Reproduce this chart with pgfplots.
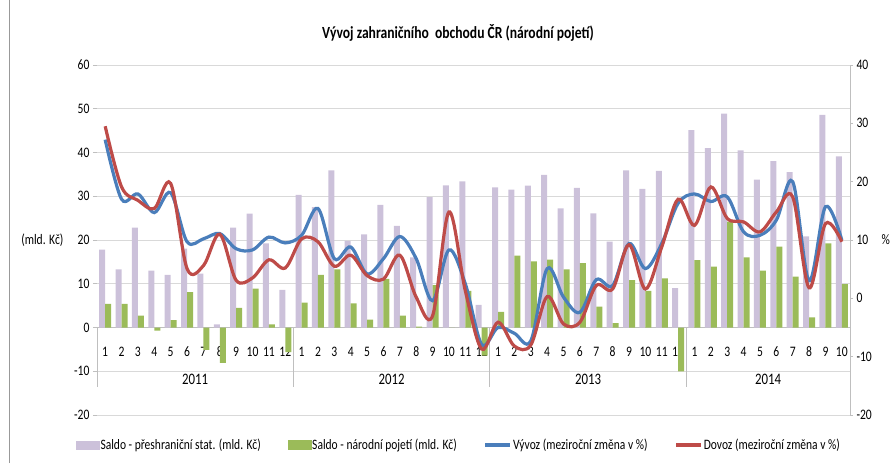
\documentclass[border=0pt]{standalone}
\usepackage{pgfplots}
\usepackage{pgfplotstable}
\pgfplotsset{compat=1.18}
\usepackage{fontspec}
\setmainfont{Carlito}[FakeStretch=0.8]
\definecolor{cPurple}{RGB}{204,193,218}
\definecolor{cGreen}{RGB}{155,187,89}
\definecolor{cBlue}{RGB}{74,126,187}
\definecolor{cRed}{RGB}{190,75,72}
\definecolor{cGrid}{RGB}{217,217,217}
\definecolor{cAxis}{RGB}{191,191,191}
\definecolor{cTxt}{RGB}{40,40,40}

\pgfplotstableread{
x p g v d
1 17.8 5.4 27.2 29.5
2 13.3 5.4 17.0 19.1
3 22.8 2.7 17.9 16.8
4 13.0 -0.7 14.7 15.4
5 12.0 1.7 18.1 19.7
6 18.0 8.1 9.7 5.1
7 12.3 -5.1 10.2 5.6
8 0.7 -8.1 11.1 11.0
9 22.8 4.5 8.5 3.1
10 26.0 8.9 8.3 3.5
11 19.2 0.7 10.5 6.6
12 8.6 -5.6 9.5 5.2
13 30.3 5.7 10.8 10.2
14 27.5 12.0 15.4 9.7
15 35.9 13.3 6.8 5.5
16 19.8 5.5 8.8 7.4
17 21.3 1.8 4.2 3.9
18 28.0 11.1 6.8 3.3
19 23.2 2.7 10.6 7.4
20 16.0 0.2 6.8 0.2
21 29.8 9.7 -0.4 -3.0
22 32.5 0.0 8.3 14.8
23 33.4 8.4 2.5 1.3
24 5.2 -6.4 -7.9 -8.7
25 32.0 3.6 -5.0 -4.1
26 31.5 16.4 -6.0 -8.2
27 32.4 15.1 -7.3 -8.0
28 34.9 15.5 5.1 0.3
29 27.2 13.3 0.2 -4.4
30 31.9 14.7 -2.4 -4.1
31 26.1 4.8 3.2 2.2
32 19.6 1.0 2.2 1.6
33 35.9 10.8 9.4 9.2
34 31.7 8.4 5.1 1.6
35 35.8 11.2 9.4 8.8
36 9.0 -10.0 16.3 17.0
37 45.1 15.4 17.9 12.5
38 41.0 13.9 16.6 19.1
39 48.9 24.2 17.4 13.7
40 40.5 16.0 11.4 13.1
41 33.8 13.0 10.8 11.4
42 38.0 18.5 13.4 14.8
43 35.5 11.6 20.0 17.4
44 20.8 2.3 3.0 1.8
45 48.6 19.2 15.7 12.8
46 39.1 9.9 10.0 9.7
}\data

\begin{document}
\begin{tikzpicture}[font=\color{cTxt}]
\begin{axis}[
  scale only axis, width=753pt, height=350pt,
  xmin=0.5, xmax=46.5, ymin=-20, ymax=60,
  axis x line*=middle, axis y line*=left,
  hide obscured x ticks=false, hide obscured y ticks=false,
  y axis line style={draw=none},
  x axis line style={draw=cAxis, line width=0.8pt},
  xtick={1,...,46},
  xticklabels={1,2,3,4,5,6,7,8,9,10,11,12,1,2,3,4,5,6,7,8,9,10,11,12,1,2,3,4,5,6,7,8,9,10,11,12,1,2,3,4,5,6,7,8,9,10},
  xtick style={draw=none},
  xticklabel style={anchor=center, yshift=-20pt, font=\fontsize{14.5}{16}\selectfont},
  ytick={-20,-10,...,60},
  ytick style={draw=cAxis, line width=0.8pt},
  tick align=outside, major tick length=4pt,
  yticklabel style={anchor=east, font=\fontsize{14.5}{16}\selectfont},
  /pgf/number format/assume math mode=true,
  ymajorgrids, grid style={cGrid, line width=0.8pt},
  ybar=0pt, bar width=6pt,
  clip=false,
]
\addplot[fill=cPurple, draw=none] table[x=x, y=p] {\data};
\addplot[fill=cGreen, draw=none] table[x=x, y=g] {\data};
\draw[cAxis, line width=0.8pt] (axis cs:0.5,0) -- (axis cs:0.5,-13.5);
\draw[cAxis, line width=0.8pt] (axis cs:12.5,0) -- (axis cs:12.5,-13.5);
\draw[cAxis, line width=0.8pt] (axis cs:24.5,0) -- (axis cs:24.5,-13.5);
\draw[cAxis, line width=0.8pt] (axis cs:36.5,0) -- (axis cs:36.5,-13.5);
\node[font=\fontsize{16}{18}\selectfont] at (axis cs:6.5,-11.8) {2011};
\node[font=\fontsize{16}{18}\selectfont] at (axis cs:18.5,-11.8) {2012};
\node[font=\fontsize{16}{18}\selectfont] at (axis cs:30.5,-11.8) {2013};
\node[font=\fontsize{16}{18}\selectfont] at (axis cs:41.5,-11.8) {2014};
\end{axis}

\begin{axis}[
  scale only axis, width=753pt, height=350pt,
  xmin=0.5, xmax=46.5, ymin=-20, ymax=40,
  axis y line*=right, axis x line=none,
  ytick={-20,-10,...,40},
  y axis line style={draw=cAxis, line width=0.8pt},
  ytick style={draw=cAxis, line width=0.8pt},
  tick align=outside, major tick length=3pt,
  yticklabel style={anchor=west, font=\fontsize{14.5}{16}\selectfont},
  /pgf/number format/assume math mode=true,
  legend columns=4,
  legend style={at={(0.4801,-0.0857)}, anchor=center, draw=none, fill=none,
    font=\fontsize{14.4}{16}\selectfont, inner sep=0pt,
    nodes={inner xsep=1pt, inner ysep=2pt},
    /tikz/every even column/.append style={column sep=26pt}},
  legend cell align=left,
  clip=false,
]
\addlegendimage{legend image code/.code={\fill[cPurple] (0pt,-4pt) rectangle (23pt,4pt);}}
\addlegendentry{Saldo - přeshraniční stat. (mld. Kč)}
\addlegendimage{legend image code/.code={\fill[cGreen] (0pt,-4.5pt) rectangle (23pt,4.5pt);}}
\addlegendentry{Saldo - národní pojetí (mld. Kč)}
\addplot[smooth, tension=0.55, cBlue, line width=3.2pt,
  legend image code/.code={\draw[cBlue, line width=3.2pt] (0pt,0pt) -- (25pt,0pt);}]
  table[x=x, y=v] {\data};
\addlegendentry{Vývoz (meziroční změna v \%)}
\addplot[smooth, tension=0.55, cRed, line width=3.2pt,
  legend image code/.code={\draw[cRed, line width=3.2pt] (0pt,0pt) -- (25pt,0pt);}]
  table[x=x, y=d] {\data};
\addlegendentry{Dovoz (meziroční změna v \%)}
\end{axis}

\node[font=\fontsize{17}{20}\selectfont\bfseries, text=black] at (361pt,382pt) {Vývoj zahraničního\ \ obchodu ČR (národní pojetí)};
\node[anchor=east, font=\fontsize{14.5}{16}\selectfont] at (-30pt,175pt) {(mld. Kč)};
\node[anchor=west, font=\fontsize{14.5}{16}\selectfont] at (781pt,175pt) {\%};
\draw[gray!80, line width=0.8pt] (-87.5pt,-48pt) -- (-87.5pt,415pt);
\pgfresetboundingbox
\path[use as bounding box] (-97pt,-48pt) rectangle (796pt,415pt);
\end{tikzpicture}
\end{document}
